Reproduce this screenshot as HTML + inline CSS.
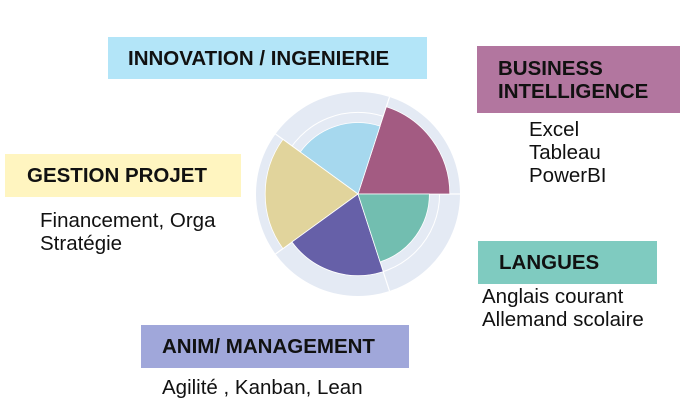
<!DOCTYPE html>
<html><head><meta charset="utf-8"><style>
body{margin:0;width:699px;height:409px;background:#fff;position:relative;overflow:hidden;font-family:"Liberation Sans",sans-serif}
.box{position:absolute;font-weight:bold;font-size:20.5px;color:#111;box-sizing:border-box;white-space:nowrap}
.txt{position:absolute;font-size:20.5px;color:#111;line-height:23px;white-space:nowrap}
</style></head><body>
<div class="box" style="left:108px;top:37px;width:319px;height:42px;background:#b3e5f8;padding:10px 0 0 20px">INNOVATION / INGENIERIE</div>
<div class="box" style="left:477px;top:46px;width:203px;height:67px;background:#b2769f;padding:11px 0 0 21px;line-height:23px">BUSINESS<br>INTELLIGENCE</div>
<div class="txt" style="left:529px;top:118px">Excel<br>Tableau<br>PowerBI</div>
<div class="box" style="left:5px;top:154px;width:236px;height:43px;background:#fff5c0;padding:10px 0 0 22px">GESTION PROJET</div>
<div class="txt" style="left:40px;top:209px">Financement, Orga<br>Stratégie</div>
<div class="box" style="left:478px;top:241px;width:179px;height:43px;background:#7fcbc0;padding:10px 0 0 21px">LANGUES</div>
<div class="txt" style="left:482px;top:285px">Anglais courant<br>Allemand scolaire</div>
<div class="box" style="left:141px;top:325px;width:268px;height:43px;background:#a0a7da;padding:10px 0 0 21px">ANIM/ MANAGEMENT</div>
<div class="txt" style="left:162px;top:376px">Agilité , Kanban, Lean</div>
<svg id="chart" width="699" height="409" style="position:absolute;left:0;top:0"></svg>
<script>
const categories=["Business Intelligence","Innovation","Gestion Projet","Management","Langues"];
const values=[9,7,9.1,8,7];
const colors=["#a35b82","#a6d8ee","#e1d49c","#6660a8","#72beb0"];
const gridTicks=[2,4,6,8];
const maxVal=10;
const cx=358,cy=194,R=102;
const NS="http://www.w3.org/2000/svg";
const svg=document.getElementById('chart');
function rScale(v){return v/maxVal*R;}
function pt(r,deg){const a=deg*Math.PI/180;return [cx+r*Math.cos(a),cy-r*Math.sin(a)];}
function mk(t,attrs){const e=document.createElementNS(NS,t);for(const k in attrs)e.setAttribute(k,attrs[k]);svg.appendChild(e);return e;}
const bg=mk('circle',{cx:cx,cy:cy,r:R,fill:'#e4eaf4'});


gridTicks.forEach(t=>{const c=mk('circle',{cx:cx,cy:cy,r:rScale(t),fill:'none',stroke:'#fff','stroke-width':1});

});
const n=categories.length,step=360/n;
for(let i=0;i<n;i++){const [x,y]=pt(R,i*step);const l=mk('line',{x1:cx,y1:cy,x2:x,y2:y,stroke:'#fff','stroke-width':1.2});

}
values.forEach((v,i)=>{const r=rScale(v),a0=i*step,a1=(i+1)*step;const p0=pt(r,a0),p1=pt(r,a1);
const p=mk('path',{d:`M${cx},${cy}L${p0[0]},${p0[1]}A${r},${r} 0 0 0 ${p1[0]},${p1[1]}Z`,fill:colors[i],stroke:'#fff','stroke-width':0.8});

});
</script>
</body></html>
